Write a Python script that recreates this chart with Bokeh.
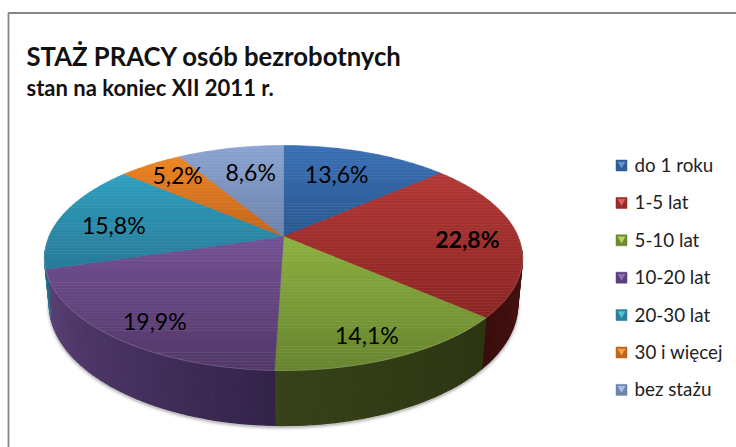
from math import sin, cos, radians
from bokeh.plotting import figure
from bokeh.models import Range1d
from bokeh.core.properties import value
from bokeh.embed import file_html
from bokeh.resources import INLINE

# ---- data ----
categories = ["do 1 roku", "1-5 lat", "5-10 lat", "10-20 lat", "20-30 lat", "30 i więcej", "bez stażu"]
shares = [13.6, 22.8, 14.1, 19.9, 15.8, 5.2, 8.6]
title = "STAŻ PRACY osób bezrobotnych"
subtitle = "stan na koniec XII 2011 r."

# ---- styles ----
top_light = ["#3a70b6", "#b23836", "#8db141", "#745194", "#2f9fbf", "#ec8522", "#8ba4d2"]
top_dark = ["#2a5890", "#8a2422", "#67842f", "#523869", "#287a98", "#c4641e", "#6b83ab"]
side_left = ["#2a5890", "#3a0e0d", "#36421a", "#5c4277", "#1f6a80", "#a0501a", "#6b83ab"]
side_right = ["#2a5890", "#4a1311", "#2c3612", "#33234a", "#2a7f99", "#a0501a", "#6b83ab"]
swatch_dark = ["#2f5d94", "#962b29", "#6d8a32", "#59407a", "#2b7f99", "#c0651f", "#6d85ad"]
swatch_light = ["#5f93d6", "#e2605c", "#b3d55a", "#8e6cb8", "#4fc0de", "#f7a044", "#a9c0e6"]
label_nudge = [(-9, 1), (15, 2), (6, 17), (-13, 15), (-9, 4), (-7, -8), (7, 2)]
label_weight = ["normal", "bold", "normal", "normal", "normal", "normal", "normal"]

# ---- perspective disc geometry (reference pixel space) ----
CX, CY, A, B, K, DEPTH, SHRINK = 283, 236, 234.6, 108.4, 0.191, 44.5, 0.98


def top_pt(deg, r=1.0):
    X, Y = r * sin(radians(deg)), r * cos(radians(deg))
    d = 1 + K * Y
    return CX + A * X / d, CY - B * Y / d


def bottom_pt(deg):
    x, y = top_pt(deg)
    return CX + (x - CX) * SHRINK, y + DEPTH / (1 + K * cos(radians(deg)))


def mix(c1, c2, t):
    a = [int(c1[i:i + 2], 16) for i in (1, 3, 5)]
    b = [int(c2[i:i + 2], 16) for i in (1, 3, 5)]
    return "#%02x%02x%02x" % tuple(round(u + (v - u) * t) for u, v in zip(a, b))


def clip(poly, y0, keep_below):
    out = []
    for i, (px, py) in enumerate(poly):
        qx, qy = poly[(i + 1) % len(poly)]
        pin = py >= y0 if keep_below else py <= y0
        qin = qy >= y0 if keep_below else qy <= y0
        if pin:
            out.append((px, py))
        if pin != qin:
            t = (y0 - py) / (qy - py)
            out.append((px + (qx - px) * t, y0))
    return out


p = figure(width=736, height=447, x_range=Range1d(0, 736), y_range=Range1d(447, 0),
           output_backend="svg", toolbar_location=None, min_border=0,
           x_axis_type=None, y_axis_type=None, outline_line_color=None,
           background_fill_color="white", border_fill_color="white")
p.grid.visible = False

# frame
p.line([736, 8, 8], [12.5, 12.5, 447], line_color="#868686", line_width=1.8)

# angular limits of each wedge
total = sum(shares)
edges = [0.0]
for s in shares:
    edges.append(edges[-1] + s * 360 / total)
WALL_FROM, WALL_TO = 97, 263

# soft shadow below the wall
rim = list(range(WALL_FROM, WALL_TO + 1, 2))
for w, a in [(7, 0.07), (4, 0.12), (2, 0.18)]:
    pts = [bottom_pt(d) for d in rim]
    p.line([q[0] for q in pts], [q[1] + 1.5 for q in pts], line_color="#555555", line_width=w, line_alpha=a)

# wall strips
xs, ys, cols = [], [], []
for i in range(len(shares)):
    lo, hi = max(edges[i], WALL_FROM), min(edges[i + 1], WALL_TO)
    if lo >= hi:
        continue
    n = max(1, int((hi - lo) / 1.5))
    for j in range(n):
        d0, d1 = lo + (hi - lo) * j / n, lo + (hi - lo) * (j + 1) / n
        q = [top_pt(d0), top_pt(d1), bottom_pt(d1), bottom_pt(d0)]
        xs.append([c[0] for c in q])
        ys.append([c[1] for c in q])
        cols.append(mix(side_right[i], side_left[i], (j + 0.5) / n))
p.patches(xs, ys, fill_color=cols, line_color=cols, line_width=1.3)

# top faces, with a vertical gradient built from bands
xs, ys, cols = [], [], []
for i in range(len(shares)):
    n = max(2, int((edges[i + 1] - edges[i]) / 1.5))
    poly = [(CX, CY)] + [top_pt(edges[i] + (edges[i + 1] - edges[i]) * j / n) for j in range(n + 1)]
    y_min, y_max = min(q[1] for q in poly), max(q[1] for q in poly)
    bands = max(3, int((y_max - y_min) / 3))
    for b in range(bands):
        y0 = y_min + (y_max - y_min) * b / bands
        y1 = y_min + (y_max - y_min) * (b + 1) / bands
        part = clip(clip(poly, y0, True), y1, False)
        if len(part) < 3:
            continue
        xs.append([q[0] for q in part])
        ys.append([q[1] for q in part])
        cols.append(mix(top_light[i], top_dark[i], (b + 0.5) / bands))
p.patches(xs, ys, fill_color=cols, line_color=cols, line_width=0.6)

# light rim along the front edge
pts = [top_pt(d) for d in rim]
p.line([q[0] for q in pts], [q[1] for q in pts], line_color="white", line_width=1, line_alpha=0.18)

# percentage labels
for i, s in enumerate(shares):
    x, y = top_pt((edges[i] + edges[i + 1]) / 2, 0.72)
    p.text([x + label_nudge[i][0]], [y + label_nudge[i][1]], text=[f"{s:.1f}%".replace(".", ",")],
           text_font=value("Lato"), text_font_size="23px", text_color="#000000",
           text_align="center", text_baseline="middle", text_font_style=label_weight[i])

# titles
p.text([26], [55], text=[title], text_font=value("Lato"), text_font_size="25.7px", text_font_style="bold",
       text_color="#111111", text_align="left", text_baseline="alphabetic")
p.text([26], [87], text=[subtitle], text_font=value("Lato"), text_font_size="22px", text_font_style="bold",
       text_color="#111111", text_align="left", text_baseline="alphabetic")

# legend
LEG_Y0, LEG_DY = 165, 37.4
for i, c in enumerate(categories):
    y = LEG_Y0 + LEG_DY * i
    p.scatter([621], [y], marker="square", size=11, fill_color=swatch_dark[i], line_color=swatch_dark[i], line_width=0.5)
    p.scatter([621], [y - 1.5], marker="inverted_triangle", size=8, fill_color=swatch_light[i], line_color=None)
    p.text([634], [y - 1], text=[c], text_font=value("Lato"), text_font_size="18.8px", text_color="#222222",
           text_align="left", text_baseline="middle")

open("out.html", "w").write(file_html(p, INLINE))
